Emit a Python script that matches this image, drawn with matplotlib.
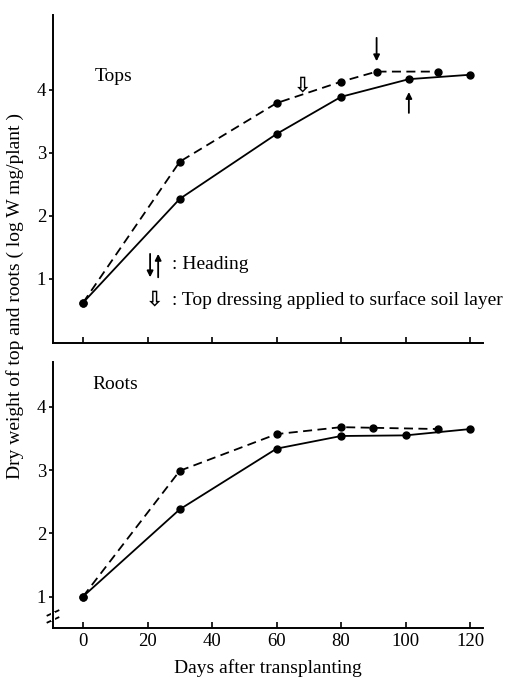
import matplotlib
matplotlib.use("Agg")
import matplotlib.pyplot as plt

plt.rcParams['font.family'] = ['Liberation Serif', 'DejaVu Serif', 'DejaVu Sans']

days_ticks = [0, 20, 40, 60, 80, 100, 120]

# Tops
tops_solid_x = [0, 30, 60, 80, 101, 120]
tops_solid_y = [0.62, 2.27, 3.30, 3.89, 4.17, 4.24]
tops_dash_x = [0, 30, 60, 80, 91, 110]
tops_dash_y = [0.62, 2.86, 3.79, 4.13, 4.29, 4.29]

# Roots
roots_solid_x = [0, 30, 60, 80, 100, 120]
roots_solid_y = [1.0, 2.38, 3.34, 3.54, 3.55, 3.65]
roots_dash_x = [0, 30, 60, 80, 90, 110]
roots_dash_y = [1.0, 2.99, 3.57, 3.68, 3.67, 3.65]

heading_dash_day = 91
heading_solid_day = 101
topdress_day = 68

fs = 14
fig = plt.figure(figsize=(5.06, 6.78), dpi=100)
ax1 = fig.add_axes([0.1047, 0.494, 0.850, 0.484])
ax2 = fig.add_axes([0.1047, 0.074, 0.850, 0.392])

for ax in (ax1, ax2):
    ax.spines['top'].set_visible(False)
    ax.spines['right'].set_visible(False)
    ax.spines['left'].set_linewidth(1.4)
    ax.spines['bottom'].set_linewidth(1.4)
    ax.set_xlim(-9.3, 124)
    ax.set_xticks(days_ticks)
    ax.tick_params(axis='x', direction='in', length=4, width=1.2, labelsize=fs - 0.5)
    ax.tick_params(axis='y', direction='out', length=3, width=1.2, labelsize=fs - 0.5, pad=2)

ms = 5
lw = 1.3
ax1.plot(tops_solid_x, tops_solid_y, '-', color='black', lw=lw, marker='o', ms=ms)
ax1.plot(tops_dash_x, tops_dash_y, '--', color='black', lw=lw, marker='o', ms=ms,
         dashes=(5, 3))
ax1.set_ylim(-0.02, 5.19)
ax1.set_yticks([1, 2, 3, 4])
ax1.tick_params(axis='x', labelbottom=False)
ax1.text(3.7, 4.22, 'Tops', fontsize=fs, va='center')

# heading arrows
hd_y = tops_dash_y[tops_dash_x.index(heading_dash_day)]
ax1.annotate('', xy=(heading_dash_day, hd_y + 0.12), xytext=(heading_dash_day, hd_y + 0.58),
             arrowprops=dict(arrowstyle='-|>', color='black', lw=1.3, mutation_scale=9))
hs_y = tops_solid_y[tops_solid_x.index(heading_solid_day)]
ax1.annotate('', xy=(heading_solid_day, hs_y - 0.16), xytext=(heading_solid_day, hs_y - 0.58),
             arrowprops=dict(arrowstyle='-|>', color='black', lw=1.3, mutation_scale=9))
ax1.text(topdress_day, 4.07, '⇩', fontsize=15, ha='center', va='center',
         family='DejaVu Sans', fontweight='bold')

# legend
ax1.annotate('', xy=(20.8, 0.98), xytext=(20.8, 1.44),
             arrowprops=dict(arrowstyle='-|>', color='black', lw=1.3, mutation_scale=9))
ax1.annotate('', xy=(23.3, 1.44), xytext=(23.3, 0.98),
             arrowprops=dict(arrowstyle='-|>', color='black', lw=1.3, mutation_scale=9))
ax1.text(27.5, 1.22, ': Heading', fontsize=fs, va='center')
ax1.text(22.3, 0.67, '⇩', fontsize=15, ha='center', va='center',
         family='DejaVu Sans', fontweight='bold')
ax1.text(27.5, 0.67, ': Top dressing applied to surface soil layer', fontsize=fs,
         va='center')

ax2.plot(roots_solid_x, roots_solid_y, '-', color='black', lw=lw, marker='o', ms=ms)
ax2.plot(roots_dash_x, roots_dash_y, '--', color='black', lw=lw, marker='o', ms=ms,
         dashes=(5, 3))
ax2.set_ylim(0.505, 4.71)
ax2.set_yticks([1, 2, 3, 4])
ax2.text(2.8, 4.36, 'Roots', fontsize=fs, va='center')

# axis break marks
for yb in (0.74, 0.63):
    ax2.plot([-11.0, -7.6], [yb - 0.04, yb + 0.04], color='black', lw=1.3, clip_on=False)
ax2.plot([-9.3, -9.3], [0.65, 0.72], color='white', lw=3, clip_on=False)

ax2.set_xlabel('Days after transplanting', fontsize=fs, labelpad=7)
fig.text(0.03, 0.563, 'Dry weight of top and roots ( log W mg/plant )', rotation=90,
         fontsize=fs, ha='center', va='center')

fig.savefig('out.png', dpi=100)
